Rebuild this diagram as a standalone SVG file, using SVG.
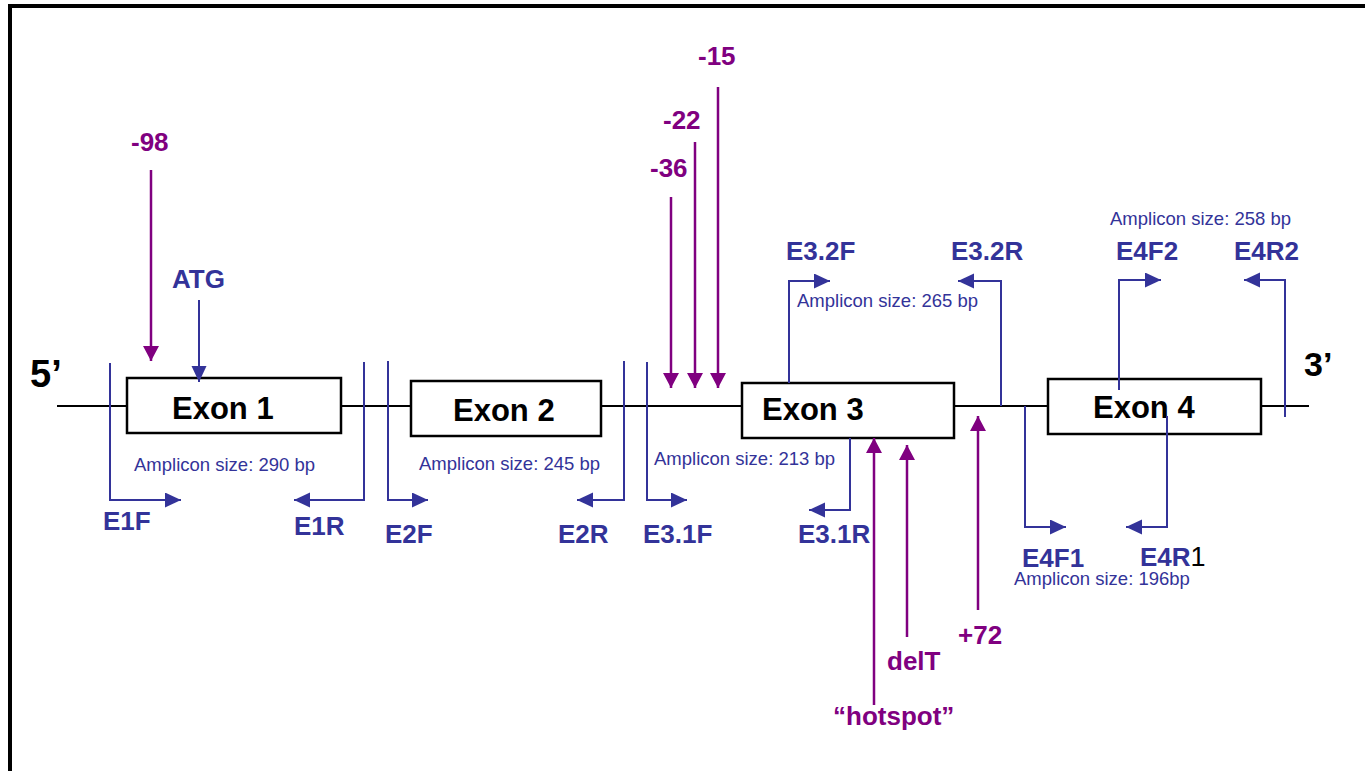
<svg xmlns="http://www.w3.org/2000/svg" width="1365" height="771" viewBox="0 0 1365 771">
<style>
.lbl{font-family:"Liberation Sans",Arial,sans-serif;font-weight:bold;font-size:26px}
.b{fill:#333399}
.p{fill:#800080}
.amp{font-family:"Liberation Sans",Arial,sans-serif;font-size:18.5px;fill:#333399}
.exon{fill:#fff;stroke:#000;stroke-width:2.5}
.exl{font-family:"Liberation Sans",Arial,sans-serif;font-weight:bold;font-size:31px;fill:#000}
.end{font-family:"Liberation Sans",Arial,sans-serif;font-weight:bold;fill:#000}
.bl{fill:none;stroke:#333399;stroke-width:2;marker-end:url(#ab)}
.pl{fill:none;stroke:#800080;stroke-width:2.5;marker-end:url(#ap)}
</style>
<defs>
<marker id="ab" markerUnits="userSpaceOnUse" markerWidth="16" markerHeight="16" refX="16" refY="7.5" orient="auto"><path d="M0,0 L16,7.5 L0,15 z" fill="#333399"/></marker>
<marker id="ap" markerUnits="userSpaceOnUse" markerWidth="16" markerHeight="16" refX="15" refY="8" orient="auto"><path d="M0,0 L15,8 L0,16 z" fill="#800080"/></marker>
</defs>
<rect width="1365" height="771" fill="#fff"/>
<rect x="10" y="6" width="1420" height="820" fill="none" stroke="#000" stroke-width="4"/>
<g id="backbone">
<line x1="57" y1="406" x2="1309" y2="406" stroke="#000" stroke-width="2.2"/>
<text class="end" x="30" y="387" font-size="38">5’</text>
<text class="end" x="1304" y="376" font-size="34">3’</text>
</g>
<g id="exon1"><rect class="exon" x="127" y="378" width="214" height="55"/><text class="exl" x="172" y="419">Exon 1</text></g>
<g id="exon2"><rect class="exon" x="411" y="381" width="190" height="55"/><text class="exl" x="453" y="421">Exon 2</text></g>
<g id="exon3"><rect class="exon" x="742" y="383" width="212" height="55"/><text class="exl" x="762" y="420">Exon 3</text></g>
<g id="exon4"><rect class="exon" x="1048" y="379" width="213" height="55"/><text class="exl" x="1093" y="418">Exon 4</text></g>
<g id="connectors">
<path class="bl" d="M110,363 V500 H181"/>
<path class="bl" d="M364,362 V500 H294"/>
<path class="bl" d="M388,361 V500 H428"/>
<path class="bl" d="M624,361 V500 H577"/>
<path class="bl" d="M647,362 V500 H687"/>
<path class="bl" d="M850,438 V510 H809"/>
<path class="bl" d="M789,383 V281 H830"/>
<path class="bl" d="M1001,406 V281 H958"/>
<path class="bl" d="M1025,406 V527 H1066"/>
<path class="bl" d="M1167,416 V527 H1126"/>
<path class="bl" d="M1119,390 V280 H1161"/>
<path class="bl" d="M1285,417 V280 H1244"/>
<path class="bl" d="M199,300 V382"/>
<path class="pl" d="M151,170 V361"/>
<path class="pl" d="M671,197 V388"/>
<path class="pl" d="M695,142 V388"/>
<path class="pl" d="M718,87 V388"/>
<path class="pl" d="M874,705 V438"/>
<path class="pl" d="M907,637 V445"/>
<path class="pl" d="M978,610 V416"/>
</g>
<g id="labels">
<text class="lbl p" x="131" y="151">-98</text>
<text class="lbl b" x="172" y="288">ATG</text>
<text class="lbl p" x="650" y="177">-36</text>
<text class="lbl p" x="663" y="129">-22</text>
<text class="lbl p" x="698" y="65">-15</text>
<text class="lbl b" x="103" y="530">E1F</text>
<text class="lbl b" x="294" y="535">E1R</text>
<text class="lbl b" x="385" y="543">E2F</text>
<text class="lbl b" x="558" y="543">E2R</text>
<text class="lbl b" x="643" y="543">E3.1F</text>
<text class="lbl b" x="798" y="543">E3.1R</text>
<text class="lbl b" x="786" y="260">E3.2F</text>
<text class="lbl b" x="951" y="260">E3.2R</text>
<text class="lbl b" x="1116" y="260">E4F2</text>
<text class="lbl b" x="1234" y="260">E4R2</text>
<text class="lbl b" x="1022" y="567">E4F1</text>
<text class="lbl b" x="1140" y="566">E4R<tspan font-weight="normal" fill="#000" font-size="27">1</tspan></text>
<text class="lbl p" x="887" y="670">delT</text>
<text class="lbl p" x="958" y="644">+72</text>
<text class="lbl p" x="833" y="725">“hotspot”</text>
<text class="amp" x="134" y="471">Amplicon size: 290 bp</text>
<text class="amp" x="419" y="470">Amplicon size: 245 bp</text>
<text class="amp" x="654" y="465">Amplicon size: 213 bp</text>
<text class="amp" x="797" y="307">Amplicon size: 265 bp</text>
<text class="amp" x="1110" y="225">Amplicon size: 258 bp</text>
<text class="amp" x="1014" y="585">Amplicon size: 196bp</text>
</g>
</svg>
